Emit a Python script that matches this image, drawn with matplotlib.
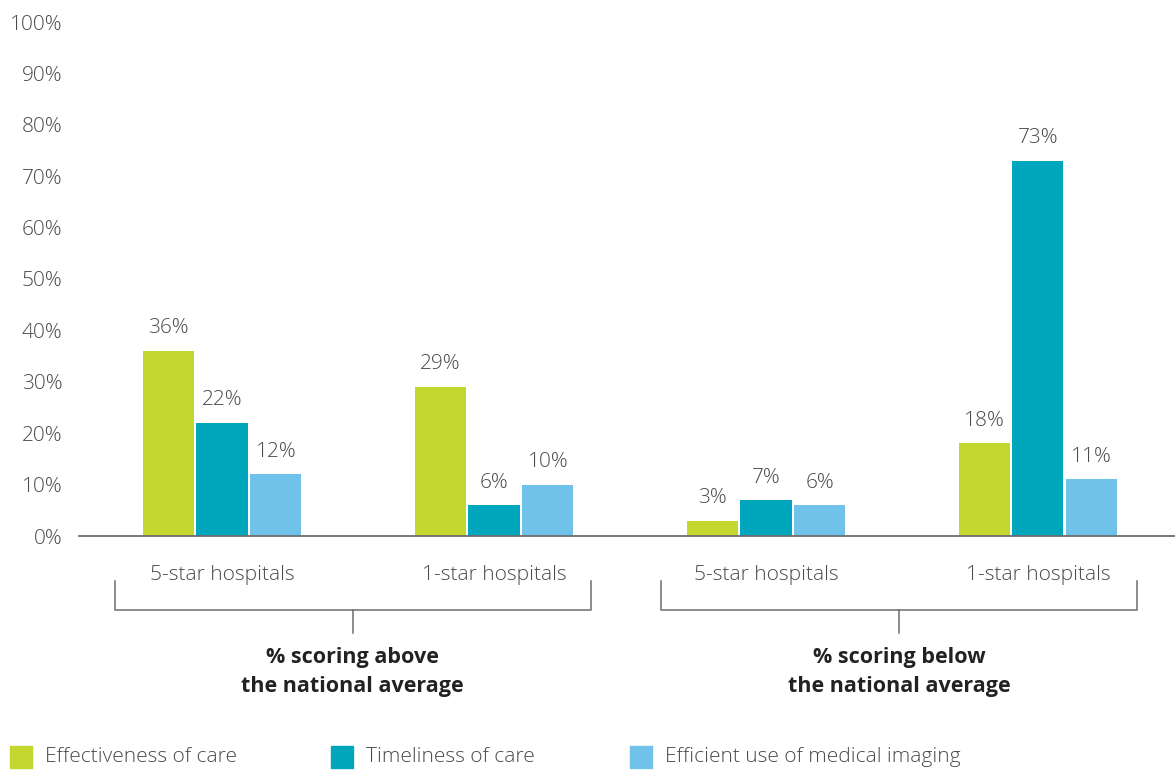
"""Hospital star ratings vs. national average, grouped bar chart."""

import matplotlib

matplotlib.use("Agg")
import matplotlib.pyplot as plt
import numpy as np
from matplotlib.patches import Rectangle
from matplotlib.transforms import blended_transform_factory

plt.rcParams["font.family"] = ["Open Sans", "DejaVu Sans"]

TEXT = "#4a4a4c"
AXIS = "#6d6e71"
FS = 15

categories = ["5-star hospitals", "1-star hospitals", "5-star hospitals", "1-star hospitals"]
group_labels = ["% scoring above\nthe national average", "% scoring below\nthe national average"]
series_names = ["Effectiveness of care", "Timeliness of care", "Efficient use of medical imaging"]
effectiveness = [36, 29, 3, 18]
timeliness = [22, 6, 7, 73]
imaging = [12, 10, 6, 11]
y_ticks = [0, 10, 20, 30, 40, 50, 60, 70, 80, 90, 100]

COLORS = ["#c4d72e", "#00a6bb", "#70c2ea"]

fig = plt.figure(figsize=(11.75, 7.72), dpi=100)
ax = fig.add_axes([79 / 1175, 1 - 536 / 772, 1 - 79 / 1175, (536 - 22) / 772])

x = np.arange(len(categories))
width = 0.188
step = 0.198
for i, (values, color) in enumerate(zip([effectiveness, timeliness, imaging], COLORS)):
    pos = x + (i - 1) * step
    bars = ax.bar(pos, values, width=width, color=color, zorder=2)
    for b, v in zip(bars, values):
        ax.annotate(f"{v}%", (b.get_x() + b.get_width() / 2, v), xytext=(0, 9),
                    textcoords="offset points", ha="center", va="bottom",
                    fontsize=FS, fontweight="light", color=TEXT)

ax.set_xlim(-0.526, 3.504)
ax.set_ylim(0, 100)
ax.set_yticks(y_ticks)
ax.set_yticklabels([f"{t}%" for t in y_ticks], fontsize=FS, fontweight="light", color=TEXT)
ax.tick_params(axis="y", length=0, pad=12)
ax.set_xticks([])
for side in ["top", "right", "left"]:
    ax.spines[side].set_visible(False)
ax.spines["bottom"].set_color(AXIS)
ax.spines["bottom"].set_linewidth(1.3)

trans = blended_transform_factory(ax.transData, ax.transAxes)
for xi, label in zip(x, categories):
    ax.text(xi, -0.075, label, transform=trans, ha="center", va="center",
            fontsize=FS, fontweight="light", color=TEXT, clip_on=False)

# brackets grouping the pairs of categories
for center, label in zip([0.48, 2.49], group_labels):
    left, right = center - 0.875, center + 0.875
    ax.plot([left, left, right, right], [-0.087, -0.144, -0.144, -0.087],
            transform=trans, color=AXIS, lw=1.1, clip_on=False)
    ax.plot([center, center], [-0.144, -0.189], transform=trans,
            color=AXIS, lw=1.1, clip_on=False)
    ax.text(center, -0.265, label, transform=trans, ha="center", va="center",
            fontsize=FS + 0.5, fontweight="bold", color="#222222", linespacing=1.5,
            clip_on=False)

# legend along the bottom
legend_x = [10, 331, 630]
for lx, name, color in zip(legend_x, series_names, COLORS):
    fig.add_artist(Rectangle((lx / 1175, 1 - 768 / 772), 22 / 1175, 22 / 772,
                             transform=fig.transFigure, color=color))
    fig.text((lx + 35) / 1175, 1 - 757 / 772, name, ha="left", va="center",
             fontsize=FS, fontweight="light", color=TEXT)

fig.savefig("out.png", dpi=100)
